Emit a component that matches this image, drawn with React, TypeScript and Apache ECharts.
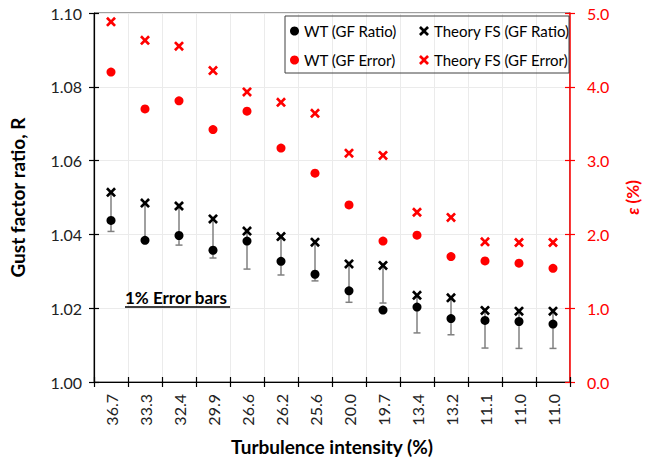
import React, { useEffect, useRef } from "react";
import * as echarts from "echarts";

const categories = ["36.7", "33.3", "32.4", "29.9", "26.6", "26.2", "25.6", "20.0", "19.7", "13.4", "13.2", "11.1", "11.0", "11.0"];
const wtRatio = [1.0438, 1.0384, 1.0397, 1.0357, 1.0382, 1.0327, 1.0292, 1.0247, 1.0195, 1.0203, 1.0172, 1.0167, 1.0164, 1.0157];
const theoryRatio = [1.0514, 1.0485, 1.0477, 1.0442, 1.0409, 1.0394, 1.0379, 1.032, 1.0316, 1.0235, 1.0228, 1.0194, 1.0192, 1.0192];
const theoryRatioLow = [1.0408, 1.0381, 1.0371, 1.0336, 1.0306, 1.029, 1.0274, 1.0216, 1.0214, 1.0133, 1.0128, 1.0092, 1.0091, 1.0091];
const wtError = [4.2, 3.7, 3.81, 3.42, 3.67, 3.17, 2.83, 2.4, 1.91, 1.99, 1.7, 1.64, 1.61, 1.54];
const theoryError = [4.88, 4.63, 4.55, 4.22, 3.93, 3.79, 3.64, 3.1, 3.07, 2.3, 2.23, 1.9, 1.89, 1.89];

const FONT = "Lato";
const X_PATH =
  "path://M0,1.9L1.9,0L5,3.1L8.1,0L10,1.9L6.9,5L10,8.1L8.1,10L5,6.9L1.9,10L0,8.1L3.1,5Z";

export default function App() {
  const ref = useRef<HTMLDivElement>(null);
  useEffect(() => {
    if (!ref.current) return;
    const chart = echarts.init(ref.current, undefined, { renderer: "svg" });
    const errData = categories.map((_, i) => [i, theoryRatio[i], theoryRatioLow[i]]);
    const labelColor = "#222";
    const option: any = {
      animation: false,
      backgroundColor: "#fff",
      textStyle: { fontFamily: FONT },
      grid: {
        left: 90,
        right: 71,
        top: 13,
        bottom: 80,
        show: true,
        borderColor: "#404040",
        borderWidth: 1,
        containLabel: false,
      },
      legend: [
        {
          orient: "vertical",
          left: 290,
          top: 22,
          padding: 0,
          itemGap: 11,
          itemWidth: 9,
          itemHeight: 9,
          textStyle: { fontFamily: FONT, fontSize: 15, color: "#000", lineHeight: 18 },
          data: [
            { name: "WT (GF Ratio)", icon: "circle" },
            { name: "WT (GF Error)", icon: "circle" },
          ],
        },
        {
          orient: "vertical",
          left: 419,
          top: 22,
          padding: 0,
          itemGap: 11,
          itemWidth: 10,
          itemHeight: 10,
          textStyle: { fontFamily: FONT, fontSize: 15, color: "#000", lineHeight: 18 },
          data: [
            { name: "Theory FS (GF Ratio)", icon: X_PATH },
            { name: "Theory FS (GF Error)", icon: X_PATH },
          ],
        },
      ],
      graphic: [
        {
          type: "rect",
          shape: { x: 285, y: 16, width: 284, height: 57 },
          style: { fill: "transparent", stroke: "#404040", lineWidth: 1 },
          z: 10,
        },
        {
          type: "text",
          x: 125,
          y: 297,
          style: {
            text: "1% Error bars",
            font: `bold 17px ${FONT}`,
            fill: "#000",
            verticalAlign: "middle",
            align: "left",
          },
          z: 10,
        },
        {
          type: "line",
          shape: { x1: 125, y1: 307, x2: 230, y2: 307 },
          style: { stroke: "#000", lineWidth: 1.5 },
          z: 10,
        },
      ],
      xAxis: [
        {
          type: "category",
          data: categories,
          position: "bottom",
          boundaryGap: true,
          axisLine: { show: true, lineStyle: { color: "#000", width: 1.2 } },
          axisTick: { show: true, length: 5, alignWithLabel: false, lineStyle: { color: "#000", width: 1.2 } },
          axisLabel: { interval: 0, rotate: 90, margin: 12, fontSize: 16, color: labelColor, fontFamily: FONT },
          splitLine: { show: true, lineStyle: { color: "#ebebeb", width: 1 } },
          name: "Turbulence intensity (%)",
          nameLocation: "middle",
          nameGap: 55,
          nameTextStyle: { fontFamily: FONT, fontWeight: "bold", fontSize: 19, color: "#000" },
        },
        {
          type: "category",
          data: categories,
          position: "bottom",
          boundaryGap: true,
          axisLine: { show: false },
          axisTick: { show: true, inside: true, length: 5, lineStyle: { color: "#000", width: 1.2 } },
          axisLabel: { show: false },
          splitLine: { show: false },
        },
      ],
      yAxis: [
        {
          type: "value",
          position: "left",
          min: 1.0,
          max: 1.1,
          interval: 0.02,
          axisLine: { show: true, lineStyle: { color: "#000", width: 1.2 } },
          axisTick: { show: true, length: 5, lineStyle: { color: "#000", width: 1.2 } },
          axisLabel: {
            margin: 12,
            fontSize: 16,
            color: labelColor,
            fontFamily: FONT,
            formatter: (v: number) => v.toFixed(2),
          },
          splitLine: { show: true, lineStyle: { color: "#ebebeb", width: 1 } },
          name: "Gust factor ratio, R",
          nameLocation: "middle",
          nameGap: 67,
          nameRotate: 90,
          nameTextStyle: { fontFamily: FONT, fontWeight: "bold", fontSize: 19, color: "#000" },
        },
        {
          type: "value",
          position: "right",
          min: 0,
          max: 5,
          interval: 1,
          axisLine: { show: true, lineStyle: { color: "#ff0000", width: 1.5 } },
          axisTick: { show: true, length: 5, lineStyle: { color: "#ff0000", width: 1.2 } },
          axisLabel: {
            margin: 17,
            fontSize: 16,
            color: "#ff0000",
            fontFamily: FONT,
            formatter: (v: number) => v.toFixed(1),
          },
          splitLine: { show: false },
          name: "{e|ε} (%)",
          nameLocation: "middle",
          nameGap: 54,
          nameRotate: 90,
          nameTextStyle: {
            fontFamily: FONT,
            fontWeight: "bold",
            fontSize: 17,
            color: "#ff0000",
            rich: { e: { fontFamily: FONT, fontStyle: "italic", fontWeight: "bold", fontSize: 17, color: "#ff0000" } },
          },
        },
        {
          type: "value",
          position: "left",
          min: 1.0,
          max: 1.1,
          interval: 0.02,
          axisLine: { show: false },
          axisTick: { show: true, inside: true, length: 5, lineStyle: { color: "#000", width: 1.2 } },
          axisLabel: { show: false },
          splitLine: { show: false },
        },
        {
          type: "value",
          position: "right",
          min: 0,
          max: 5,
          interval: 1,
          axisLine: { show: false },
          axisTick: { show: true, inside: true, length: 5, lineStyle: { color: "#ff0000", width: 1.2 } },
          axisLabel: { show: false },
          splitLine: { show: false },
        },
      ],
      series: [
        {
          type: "custom",
          name: "errorbars",
          xAxisIndex: 0,
          yAxisIndex: 0,
          data: errData,
          encode: { x: 0, y: [1, 2] },
          z: 1,
          renderItem: (params: any, api: any) => {
            const x = api.value(0);
            const pHi = api.coord([x, api.value(1)]);
            const pLo = api.coord([x, api.value(2)]);
            const half = 3.5;
            const st = { stroke: "#808080", lineWidth: 1.5 };
            return {
              type: "group",
              children: [
                { type: "line", shape: { x1: pHi[0], y1: pHi[1], x2: pLo[0], y2: pLo[1] }, style: st },
                { type: "line", shape: { x1: pLo[0] - half, y1: pLo[1], x2: pLo[0] + half, y2: pLo[1] }, style: st },
              ],
            };
          },
        },
        {
          type: "scatter",
          name: "WT (GF Ratio)",
          xAxisIndex: 0,
          yAxisIndex: 0,
          data: wtRatio,
          symbol: "circle",
          symbolSize: 9,
          itemStyle: { color: "#000", opacity: 1 },
          z: 3,
        },
        {
          type: "scatter",
          name: "Theory FS (GF Ratio)",
          xAxisIndex: 0,
          yAxisIndex: 0,
          data: theoryRatio,
          symbol: X_PATH,
          symbolSize: 10,
          itemStyle: { color: "#000", opacity: 1 },
          z: 3,
        },
        {
          type: "scatter",
          name: "WT (GF Error)",
          xAxisIndex: 0,
          yAxisIndex: 1,
          data: wtError,
          symbol: "circle",
          symbolSize: 9,
          itemStyle: { color: "#ff0000", opacity: 1 },
          z: 3,
        },
        {
          type: "scatter",
          name: "Theory FS (GF Error)",
          xAxisIndex: 0,
          yAxisIndex: 1,
          data: theoryError,
          symbol: X_PATH,
          symbolSize: 10,
          itemStyle: { color: "#ff0000", opacity: 1 },
          z: 3,
        },
      ],
    };
    chart.setOption(option);
    return () => chart.dispose();
  }, []);
  return <div ref={ref} style={{ width: 649, height: 462, position: "absolute", left: 0, top: 0 }} />;
}
